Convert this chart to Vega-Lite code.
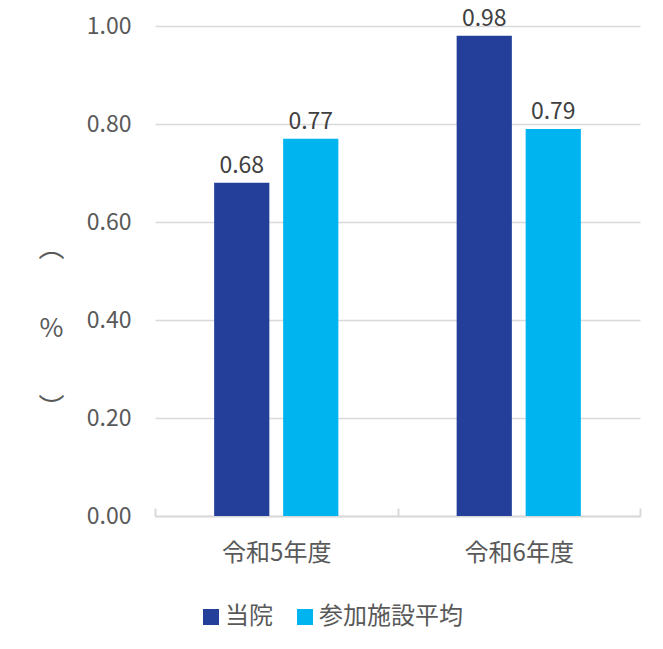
{
  "$schema": "https://vega.github.io/schema/vega-lite/v6.json",
  "width": 485,
  "height": 490,
  "autosize": {"type": "none"},
  "padding": {"left": 155, "top": 26, "right": 23, "bottom": 133},
  "background": "white",
  "config": {
    "view": {"stroke": null},
    "font": "Noto Sans CJK JP"
  },
  "data": {
    "values": [
      {"year": "令和5年度", "group": "当院", "value": 0.68},
      {"year": "令和5年度", "group": "参加施設平均", "value": 0.77},
      {"year": "令和6年度", "group": "当院", "value": 0.98},
      {"year": "令和6年度", "group": "参加施設平均", "value": 0.79}
    ]
  },
  "encoding": {
    "x": {
      "field": "year",
      "type": "nominal",
      "sort": ["令和5年度", "令和6年度"],
      "scale": {"paddingInner": 0, "paddingOuter": 0},
      "axis": {
        "title": null,
        "labelAngle": 0,
        "labelFontSize": 24,
        "labelColor": "#595959",
        "labelPadding": 33,
        "domainColor": "#d9d9d9",
        "domainWidth": 2,
        "ticks": true,
        "tickBand": "extent",
        "tickColor": "#d9d9d9",
        "tickWidth": 2,
        "tickSize": -8
      }
    },
    "xOffset": {
      "field": "group",
      "type": "nominal",
      "sort": ["当院", "参加施設平均"],
      "scale": {"paddingInner": 0.2, "paddingOuter": 0.857}
    },
    "y": {
      "field": "value",
      "type": "quantitative",
      "scale": {"domain": [0, 1], "nice": false},
      "axis": {
        "values": [0, 0.2, 0.4, 0.6, 0.8, 1.0],
        "format": ".2f",
        "title": ["︵", "%", "︶"],
        "titleAngle": 0,
        "titleFontSize": 26,
        "titleFontWeight": "normal",
        "titleColor": "#595959",
        "titleLineHeight": 80,
        "titleAlign": "center",
        "titleBaseline": "middle",
        "titleX": -104,
        "titleY": 222,
        "labelFontSize": 23,
        "labelColor": "#595959",
        "labelPadding": 24,
        "domain": false,
        "ticks": false,
        "grid": true,
        "gridColor": "#d9d9d9",
        "gridWidth": 1.5
      }
    }
  },
  "layer": [
    {
      "mark": {"type": "bar"},
      "encoding": {
        "color": {
          "field": "group",
          "type": "nominal",
          "scale": {"domain": ["当院", "参加施設平均"], "range": ["#233F99", "#00B4F0"]},
          "legend": {
            "title": null,
            "orient": "none",
            "direction": "horizontal",
            "legendX": 44,
            "legendY": 579,
            "symbolType": "square",
            "symbolSize": 256,
            "symbolStrokeWidth": 0,
            "labelFontSize": 24,
            "labelColor": "#595959",
            "labelOffset": 2,
            "columnPadding": 20
          }
        }
      }
    },
    {
      "mark": {"type": "text", "baseline": "bottom", "dy": -5, "fontSize": 23, "color": "#404040"},
      "encoding": {
        "text": {"field": "value", "type": "quantitative", "format": ".2f"}
      }
    }
  ]
}
